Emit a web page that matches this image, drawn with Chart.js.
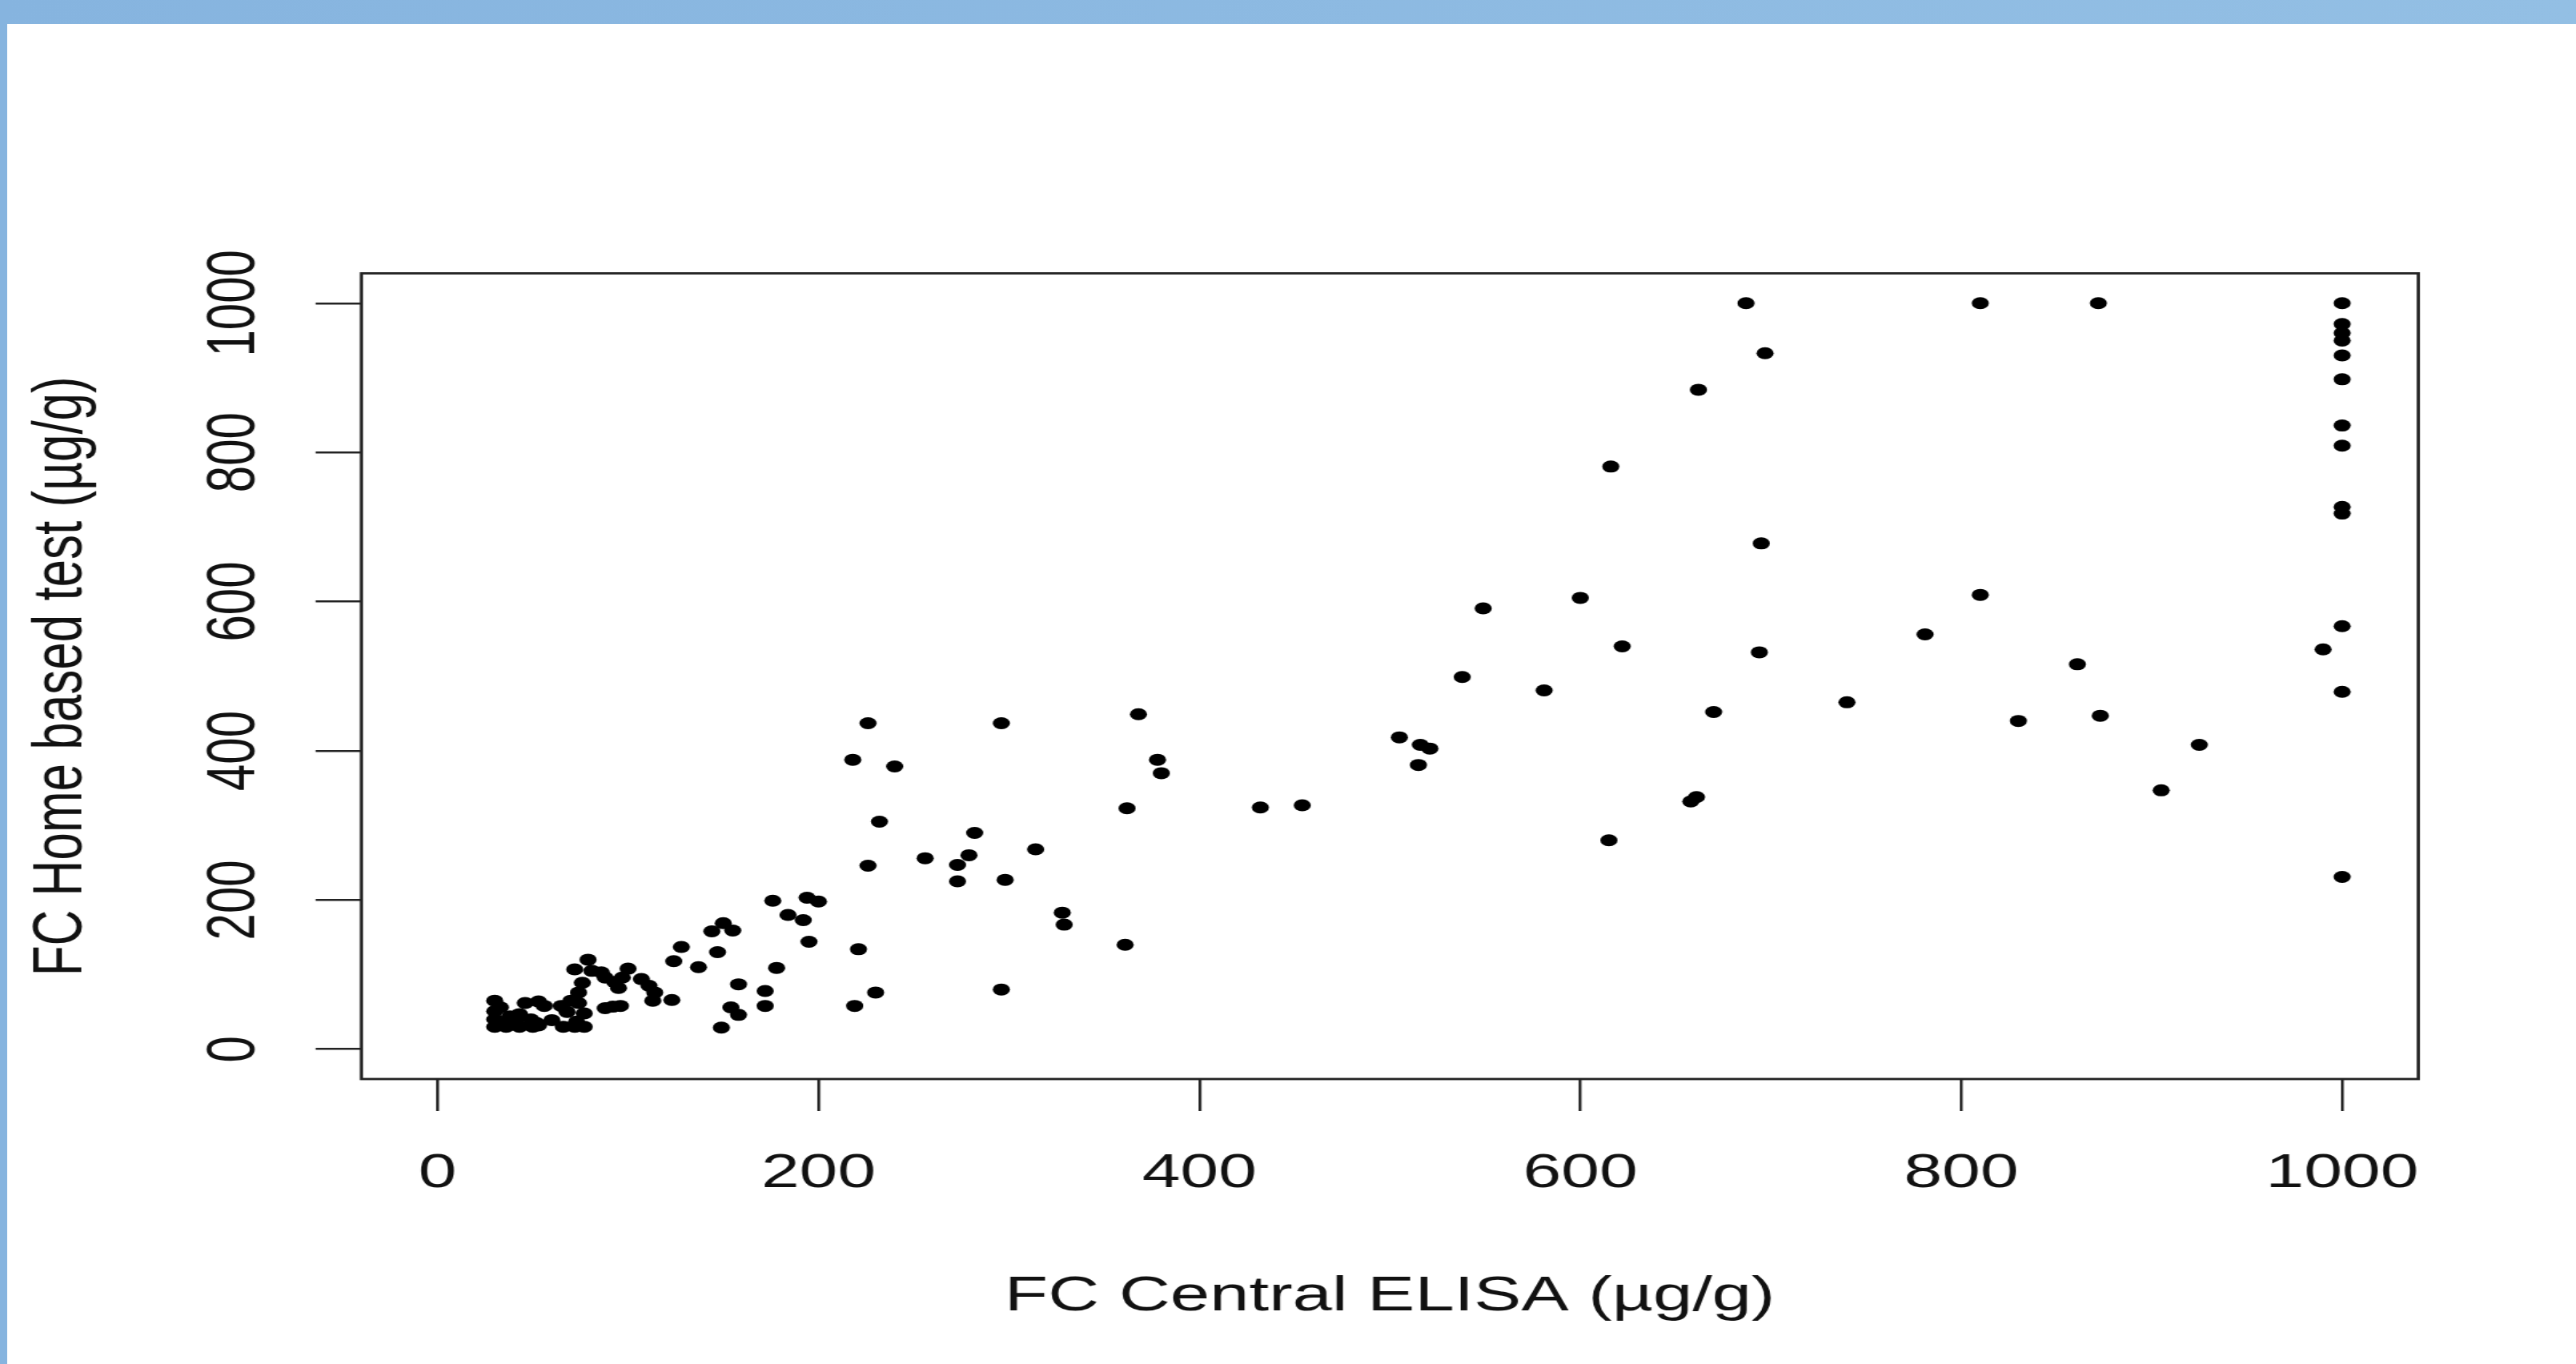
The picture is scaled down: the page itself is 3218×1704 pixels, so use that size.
<!DOCTYPE html>
<html>
<head>
<meta charset="utf-8">
<script src="https://cdn.jsdelivr.net/npm/chart.js@4.4.0/dist/chart.umd.min.js"></script>
<style>
  html, body { margin: 0; padding: 0; background: #fff; }
  body { width: 3218px; height: 1704px; position: relative; overflow: hidden; }
  #topband { position: absolute; left: 0; top: 0; width: 3218px; height: 30px; background: linear-gradient(to right, #86b4df, #93bfe4); z-index: 2; }
  #leftband { position: absolute; left: 0; top: 0; width: 9px; height: 1704px; background: #86b4df; z-index: 2; }
  /* the source picture is stretched sideways, so the chart is too */
  #wrap { position: absolute; left: 0; top: 30px; width: 2250px; height: 1674px; transform: scaleX(1.43); transform-origin: 0 0; }
</style>
</head>
<body>
<div id="topband"></div>
<div id="leftband"></div>
<div id="wrap"><canvas id="scatter" width="2250" height="1674"></canvas></div>
<script>
// FC Central ELISA (x) vs FC Home based test (y), µg/g
const elisa = [
  1000, 1000, 1000, 1000, 1000, 1000, 1000, 1000, 1000, 1000, 1000, 1000, 1000, 990,
  810, 872, 810, 781, 861, 830, 873, 925, 905,
  687, 697, 662, 616, 695, 600, 549, 622, 694, 538, 581, 670, 740, 505, 516, 521, 515, 454, 432, 658, 661, 615,
  226, 296, 368, 218, 240, 378, 380, 362, 232, 282, 314, 256, 279, 273, 226, 273, 298, 328, 329, 361, 296,
  30, 30, 30, 30, 36, 43, 50, 53, 35, 46, 53, 56, 43, 41, 49, 52, 38, 33,
  65, 60, 66, 72, 77, 70, 74, 77, 73, 74, 76, 72, 81, 79, 68,
  86, 88, 93, 95, 97, 100, 107, 111, 114, 113, 123, 88, 92, 96,
  124, 128, 137, 147, 144, 150, 155, 158, 172, 172, 154, 158, 149, 178,
  176, 194, 200, 184, 192, 195, 221, 219, 230
]
const homeTest = [
  1000, 972, 960, 950, 930, 898, 836, 809, 727, 718, 567, 479, 231, 536,
  1000, 1000, 609, 556, 516, 440, 447, 408, 347,
  1000, 933, 884, 781, 678, 605, 591, 540, 532, 499, 481, 452, 465, 418, 408, 403, 381, 327, 324, 332, 338, 280,
  437, 437, 449, 388, 379, 388, 370, 323, 305, 290, 268, 256, 260, 247, 246, 225, 227, 183, 167, 140, 80,
  65, 51, 40, 30, 30, 30, 30, 32, 34, 62, 64, 58, 47, 39, 40, 35, 44, 56,
  58, 39, 30, 30, 30, 65, 62, 48, 37, 76, 89, 107, 105, 120, 50,
  103, 96, 90, 82, 96, 108, 94, 85, 76, 65, 66, 55, 57, 58,
  118, 137, 110, 130, 158, 169, 159, 87, 78, 58, 56, 46, 29, 109,
  199, 203, 198, 180, 173, 144, 134, 58, 76
]
const xTicks = [0, 200, 400, 600, 800, 1000]
const yTicks = [0, 200, 400, 600, 800, 1000]
const xTitle = 'FC Central ELISA (µg/g)'
const yTitle = 'FC Home based test (µg/g)'

const family = '"Liberation Sans", Arial, Helvetica, sans-serif'
Chart.defaults.font.family = family

// R style: full box round the plot, y tick labels turned upright
const rAxes = {
    id: 'rAxes',
    afterDraw(chart) {
        const { ctx, chartArea: a, scales: { y } } = chart
        ctx.save()
        ctx.strokeStyle = '#222'
        ctx.lineWidth = 2.8
        ctx.strokeRect(a.left, a.top, a.right - a.left, a.bottom - a.top)

        ctx.fillStyle = '#111'
        ctx.font = '60px ' + family
        ctx.textAlign = 'center'
        ctx.textBaseline = 'middle'
        y.ticks.forEach(t => {
            ctx.save()
            ctx.translate(a.left - 110, y.getPixelForValue(t.value))
            ctx.rotate(-Math.PI / 2)
            ctx.fillText(t.label, 0, 0)
            ctx.restore()
        })
        ctx.restore()
    }
}

const tickGrid = {
    drawOnChartArea: false,
    drawTicks: true,
    tickLength: 40,
    color: '#222',
    lineWidth: 2.5
}

const config = {
    type: 'scatter',
    data: {
        datasets: [{
            data: elisa.map((x, i) => ({ x: x, y: homeTest[i] })),
            backgroundColor: '#000',
            borderWidth: 0,
            pointRadius: 7.5,
            pointHoverRadius: 7.5
        }]
    },
    options: {
        responsive: false,
        animation: false,
        devicePixelRatio: 1,
        events: [],
        layout: { padding: { top: 311.5, right: 137.4, left: 0, bottom: 0 } },
        plugins: {
            legend: { display: false },
            tooltip: { enabled: false }
        },
        scales: {
            x: {
                type: 'linear',
                min: -40,
                max: 1040,
                afterBuildTicks: s => { s.ticks = xTicks.map(v => ({ value: v })) },
                afterFit: s => { s.height = 356 },
                ticks: {
                    callback: v => String(v),
                    autoSkip: false,
                    maxRotation: 0,
                    padding: 42,
                    color: '#111',
                    font: { size: 60 }
                },
                grid: tickGrid,
                border: { display: false },
                title: {
                    display: true,
                    text: xTitle,
                    color: '#111',
                    font: { size: 62 },
                    padding: { top: 0, bottom: 47 }
                }
            },
            y: {
                type: 'linear',
                min: -40,
                max: 1040,
                afterBuildTicks: s => { s.ticks = yTicks.map(v => ({ value: v })) },
                afterFit: s => { s.width = 315.7 },
                ticks: {
                    display: false,
                    callback: v => String(v)
                },
                grid: tickGrid,
                border: { display: false },
                title: {
                    display: true,
                    text: yTitle,
                    color: '#111',
                    font: { size: 62 },
                    padding: { top: 17, bottom: 0 }
                }
            }
        }
    },
    plugins: [rAxes]
}

new Chart(document.getElementById('scatter'), config)
</script>
</body>
</html>
